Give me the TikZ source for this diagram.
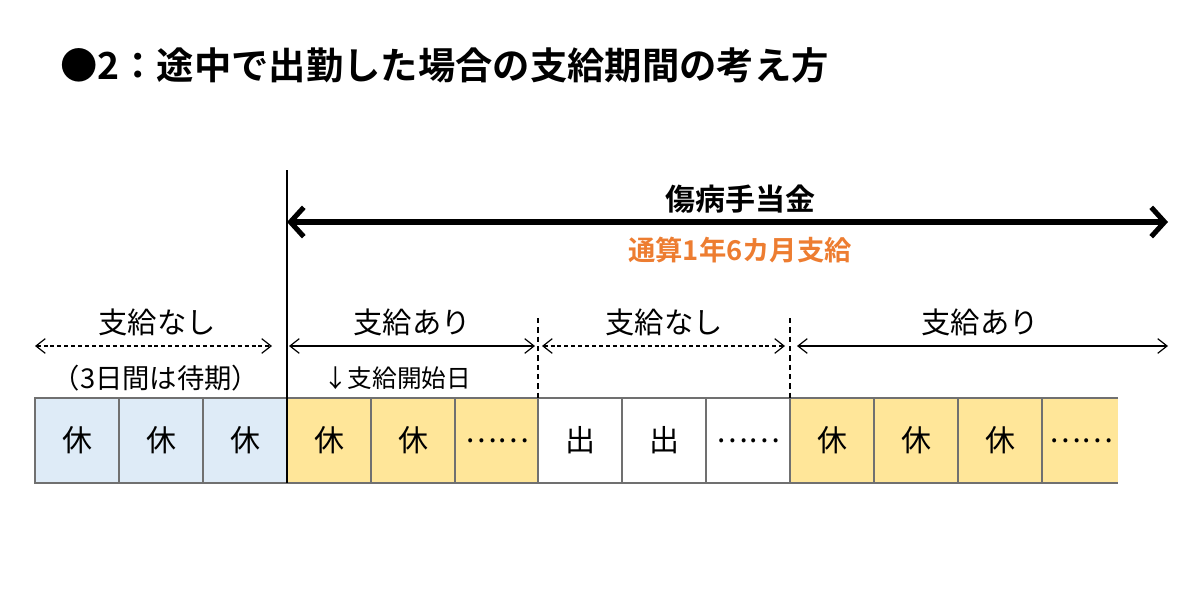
\documentclass[tikz,border=0pt]{standalone}
\usepackage{fontspec}
\setmainfont{Noto Sans CJK JP}[BoldFont={* Bold}]
\newfontfamily\jpb{Noto Sans CJK JP Bold}
\usetikzlibrary{arrows.meta}
\definecolor{cellblue}{HTML}{DEEBF7}
\definecolor{cellyellow}{HTML}{FFE699}
\definecolor{cellline}{HTML}{707070}
\definecolor{orangetxt}{HTML}{ED7D31}
\tikzset{
  cellfont/.style={font=\fontsize{22.5}{24}\selectfont},
  cellbox/.style={draw=cellline, line width=1.2pt, minimum width=63pt, minimum height=63.75pt, inner sep=0pt, outer sep=0pt, anchor=north west, cellfont},
  lbl/.style={font=\fontsize{22}{24}\selectfont, inner sep=0pt},
  sub/.style={font=\fontsize{18.5}{20}\selectfont, inner sep=0pt},
  thinarrow/.style={line width=0.9pt, {Straight Barb[length=7pt,width=11pt]}-{Straight Barb[length=7pt,width=11pt]}},
  dasharrow/.style={thinarrow, dash pattern=on 3pt off 2.2pt},
  sep/.style={line width=0.9pt, dash pattern=on 4pt off 3pt}
}
\begin{document}
\begin{tikzpicture}[x=0.75pt, y=-0.75pt]
\useasboundingbox (0,0) rectangle (1200,600);
% title
\node[anchor=west, inner sep=0pt, font=\jpb\fontsize{28}{30}\selectfont] (title) at (60,65) {●2：途中で出勤した場合の支給期間の考え方};
% fill of the last, truncated cell (drawn first)
\fill[cellyellow] (1042,398) rectangle (1118,483);
% cells
\node[cellbox, fill=cellblue] (c1) at (35,398) {休};
\node[cellbox, fill=cellblue] (c2) at (119,398) {休};
\node[cellbox, fill=cellblue] (c3) at (203,398) {休};
\node[cellbox, fill=cellyellow] (c4) at (287,398) {休};
\node[cellbox, fill=cellyellow] (c5) at (371,398) {休};
\node[cellbox, fill=cellyellow] (c6) at (455,398) {……};
\node[cellbox, fill=white] (c7) at (538,398) {出};
\node[cellbox, fill=white] (c8) at (622,398) {出};
\node[cellbox, fill=white] (c9) at (706,398) {……};
\node[cellbox, fill=cellyellow] (c10) at (790,398) {休};
\node[cellbox, fill=cellyellow] (c11) at (874,398) {休};
\node[cellbox, fill=cellyellow] (c12) at (958,398) {休};
\draw[cellline, line width=1.2pt] (1118,398) -- (c12.north east) (c12.south east) -- (1118,483);
\node[cellfont, inner sep=0pt] (c13) at (1081,440.5) {……};
% separators
\coordinate (v0t) at (287,170);
\draw[line width=1pt] (v0t) -- (c4.south west);
\coordinate (v1t) at (538,318);
\draw[sep] (v1t) -- (c7.north west);
\coordinate (v2t) at (790,318);
\draw[sep] (v2t) -- (c10.north west);
% big arrow
\coordinate (ba) at (287,222);
\coordinate (bb) at (1168,222);
\draw[line width=3.8pt, {Straight Barb[length=10pt,width=22pt,line width=3.8pt]}-{Straight Barb[length=10pt,width=22pt,line width=3.8pt]}] (ba) -- (bb);
\node[font=\bfseries\fontsize{22.5}{24}\selectfont, inner sep=0pt] (hdr) at (740,199) {傷病手当金};
\node[font=\bfseries\fontsize{20.5}{22}\selectfont, text=orangetxt, inner sep=0pt] (tot) at (740,250) {通算1年6カ月支給};
% labels
\node[lbl] (l1) at (157,322) {支給なし};
\node[lbl] (l2) at (412,322) {支給あり};
\node[lbl] (l3) at (664,322) {支給なし};
\node[lbl] (l4) at (980,322) {支給あり};
% arrows
\coordinate (a1l) at (35,346); \coordinate (a1r) at (272,346);
\coordinate (a2l) at (289,346); \coordinate (a2r) at (535,346);
\coordinate (a3l) at (542,346); \coordinate (a3r) at (785,346);
\coordinate (a4l) at (797,346); \coordinate (a4r) at (1168,346);
\draw[dasharrow] (a1l) -- (a1r);
\draw[thinarrow] (a2l) -- (a2r);
\draw[dasharrow] (a3l) -- (a3r);
\draw[thinarrow] (a4l) -- (a4r);
% sub labels
\node[font=\fontsize{20.5}{22}\selectfont, inner sep=0pt] (s1) at (156,378) {（3日間は待期）};
\node[sub, anchor=west] (s2) at (323,378) {↓支給開始日};
\end{tikzpicture}
\end{document}
